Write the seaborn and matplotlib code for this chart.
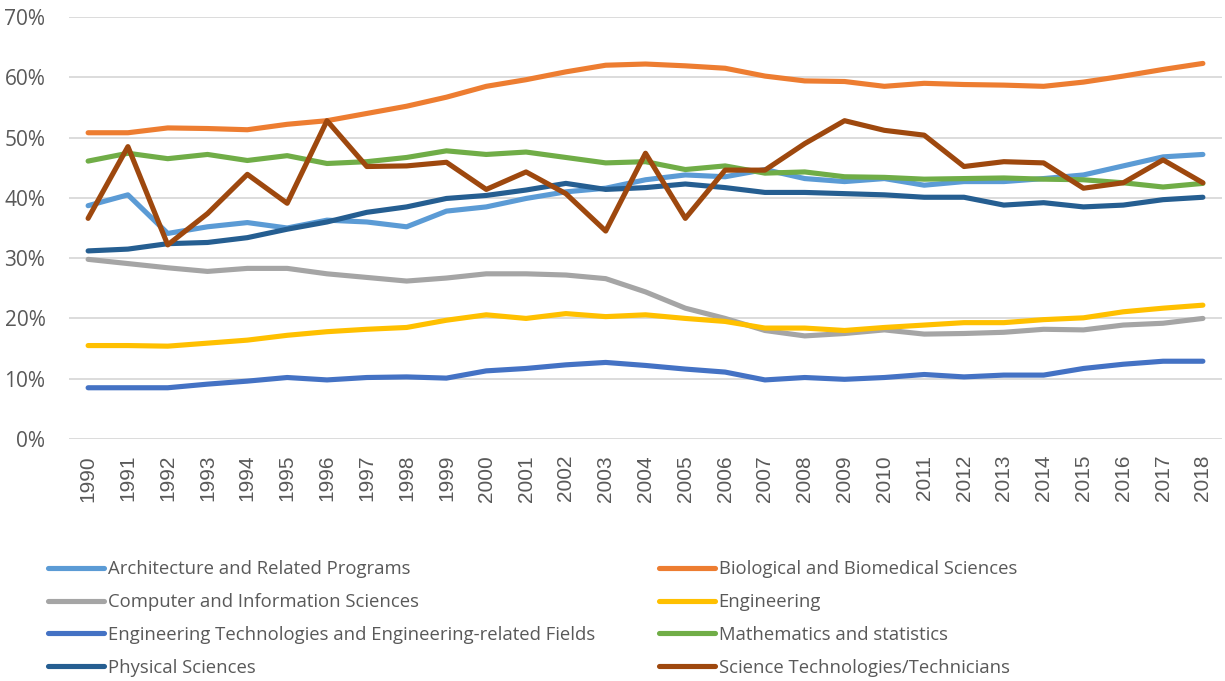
import matplotlib.pyplot as plt
import numpy as np
import pandas as pd
import seaborn as sns
from matplotlib.ticker import PercentFormatter
from matplotlib.lines import Line2D

# 数据 (percent)
years = list(range(1990, 2019))
architecture = [38.7, 40.5, 34.1, 35.2, 35.9, 35.0, 36.3, 36.0, 35.2, 37.8,
                38.5, 39.9, 41.0, 41.6, 43.0, 43.8, 43.5, 44.7, 43.2, 42.7,
                43.2, 42.1, 42.7, 42.7, 43.2, 43.8, 45.3, 46.8, 47.2]
biological = [50.8, 50.8, 51.6, 51.5, 51.3, 52.2, 52.8, 54.0, 55.2, 56.7,
              58.5, 59.6, 60.9, 62.0, 62.2, 61.9, 61.5, 60.2, 59.4, 59.3,
              58.5, 59.0, 58.8, 58.7, 58.5, 59.2, 60.2, 61.3, 62.3]
computer = [29.8, 29.1, 28.4, 27.8, 28.3, 28.3, 27.4, 26.8, 26.2, 26.7,
            27.4, 27.4, 27.2, 26.6, 24.4, 21.7, 20.0, 18.0, 17.1, 17.5,
            18.1, 17.4, 17.5, 17.7, 18.2, 18.1, 18.9, 19.2, 20.0]
engineering = [15.5, 15.5, 15.4, 15.9, 16.4, 17.2, 17.8, 18.2, 18.5, 19.7,
               20.6, 20.0, 20.8, 20.3, 20.6, 20.0, 19.5, 18.4, 18.4, 18.0,
               18.5, 18.9, 19.3, 19.3, 19.8, 20.1, 21.1, 21.7, 22.2]
eng_tech = [8.5, 8.5, 8.5, 9.1, 9.6, 10.2, 9.8, 10.2, 10.3, 10.1,
            11.3, 11.7, 12.3, 12.7, 12.2, 11.6, 11.1, 9.8, 10.2, 9.9,
            10.2, 10.7, 10.3, 10.6, 10.6, 11.7, 12.4, 12.9, 12.9]
math_stats = [46.1, 47.4, 46.5, 47.2, 46.2, 47.0, 45.7, 46.0, 46.7, 47.8,
              47.2, 47.6, 46.7, 45.8, 46.0, 44.7, 45.3, 44.1, 44.3, 43.5,
              43.4, 43.1, 43.2, 43.3, 43.1, 43.0, 42.5, 41.8, 42.4]
physical = [31.2, 31.5, 32.4, 32.6, 33.4, 34.8, 36.0, 37.6, 38.5, 39.9,
            40.4, 41.3, 42.4, 41.4, 41.7, 42.3, 41.7, 40.9, 40.9, 40.7,
            40.5, 40.1, 40.1, 38.8, 39.2, 38.5, 38.8, 39.7, 40.1]
sci_tech = [36.6, 48.5, 32.2, 37.4, 43.9, 39.1, 52.8, 45.2, 45.3, 45.9,
            41.4, 44.3, 40.7, 34.5, 47.4, 36.6, 44.6, 44.6, 49.0, 52.8,
            51.2, 50.4, 45.2, 46.0, 45.8, 41.6, 42.5, 46.3, 42.5]

names = ["Architecture and Related Programs", "Biological and Biomedical Sciences",
         "Computer and Information Sciences", "Engineering",
         "Engineering Technologies and Engineering-related Fields",
         "Mathematics and statistics", "Physical Sciences",
         "Science Technologies/Technicians"]
colors = ["#5B9BD5", "#ED7D31", "#A5A5A5", "#FFC000",
          "#4472C4", "#70AD47", "#255E91", "#9E480E"]

df = pd.DataFrame(dict(zip(names, [architecture, biological, computer, engineering,
                                   eng_tech, math_stats, physical, sci_tech])), index=years)
df.index.name = "year"
long = df.reset_index().melt(id_vars="year", var_name="field", value_name="share")

sns.set_theme(style="white")
plt.rcParams['font.family'] = ['Open Sans', 'DejaVu Sans']

fig = plt.figure(figsize=(12.25, 6.81), dpi=100)
ax = fig.add_axes([69 / 1225, (681 - 439) / 681, (1222 - 69) / 1225, 422 / 681])

sns.lineplot(data=long, x="year", y="share", hue="field", hue_order=names,
             palette=colors, linewidth=3.7, ax=ax, legend=False,
             solid_capstyle="round", solid_joinstyle="round")

ax.set_xlim(1989.52, 2018.48)
ax.set_ylim(0, 70)
ax.set_yticks(np.arange(0, 71, 10))
ax.yaxis.set_major_formatter(PercentFormatter(xmax=100, decimals=0))
ax.set_xticks(years)
ax.set_xticklabels([str(y) for y in years], rotation=90, family="Liberation Sans",
                   fontsize=15, color="#595959")
ax.tick_params(axis="x", length=0, pad=11.5)
ax.tick_params(axis="y", length=0, pad=17, labelsize=15, labelcolor="#595959")
ax.grid(axis="y", color="#D9D9D9", linewidth=1.3)
ax.set_axisbelow(True)
for s in ax.spines.values():
    s.set_visible(False)
ax.set_xlabel("")
ax.set_ylabel("")

# 图例: 两列, 手动放
def handle(c):
    return Line2D([], [], color=c, linewidth=3.7, solid_capstyle="round")

left = [0, 2, 4, 6]
right = [1, 3, 5, 7]
for idx, x0 in [(left, 41 / 1225), (right, 652 / 1225)]:
    fig.legend([handle(colors[i]) for i in idx], [names[i] for i in idx],
               loc="upper left", bbox_to_anchor=(x0, 1 - 553 / 681),
               frameon=False, fontsize=13.3, handlelength=3.0, handletextpad=0.2,
               labelspacing=0.8, labelcolor="#595959", borderaxespad=0)

fig.savefig("out.png", dpi=100)
